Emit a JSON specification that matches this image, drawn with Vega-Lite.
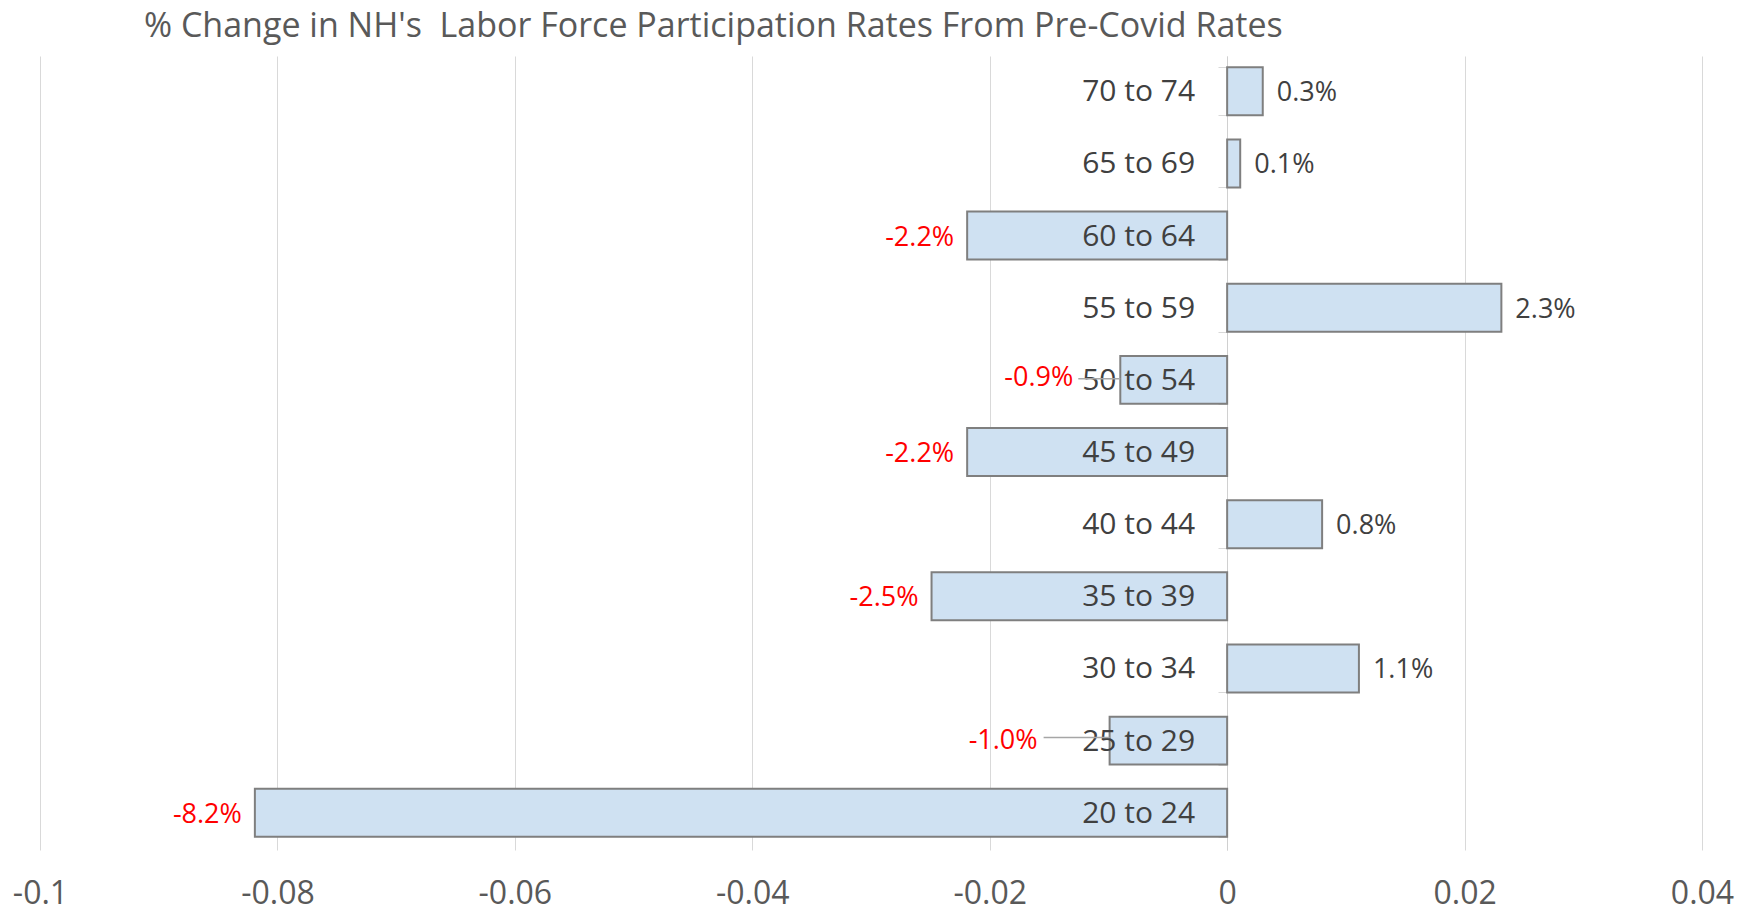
{
  "$schema": "https://vega.github.io/schema/vega-lite/v6.json",
  "width": 1662,
  "height": 794,
  "autosize": {"type": "none"},
  "padding": {"left": 40, "top": 56, "right": 37, "bottom": 62},
  "background": "white",
  "config": {
    "view": {"stroke": null},
    "font": "Open Sans",
    "locale": {"number": {"decimal": ".", "thousands": ",", "grouping": [3], "currency": ["$", ""], "minus": "-"}}
  },
  "title": {
    "text": "% Change in NH's\u00a0 Labor Force Participation Rates From Pre-Covid Rates",
    "anchor": "start",
    "frame": "group",
    "dx": 104,
    "offset": 12,
    "font": "Open Sans",
    "fontSize": 34,
    "fontWeight": "normal",
    "color": "#595959"
  },
  "data": {
    "values": [
      {"age": "70 to 74", "value": 0.0030},
      {"age": "65 to 69", "value": 0.0011},
      {"age": "60 to 64", "value": -0.0219},
      {"age": "55 to 59", "value": 0.0231},
      {"age": "50 to 54", "value": -0.0090},
      {"age": "45 to 49", "value": -0.0219},
      {"age": "40 to 44", "value": 0.0080},
      {"age": "35 to 39", "value": -0.0249},
      {"age": "30 to 34", "value": 0.0111},
      {"age": "25 to 29", "value": -0.0099},
      {"age": "20 to 24", "value": -0.0819}
    ]
  },
  "encoding": {
    "y": {
      "field": "age",
      "type": "nominal",
      "sort": "descending",
      "scale": {"paddingInner": 0.335, "paddingOuter": 0.17, "align": 0.46},
      "axis": {
        "orient": "left",
        "offset": -1187,
        "labels": false,
        "title": null,
        "ticks": true,
        "tickBand": "extent",
        "tickSize": 9,
        "tickColor": "#d9d9d9",
        "domainColor": "#d0d0d0",
        "grid": false
      }
    }
  },
  "layer": [
    {
      "mark": {"type": "bar", "fill": "#cfe1f2", "stroke": "#7f7f7f", "strokeWidth": 2},
      "encoding": {
        "x": {
          "field": "value",
          "type": "quantitative",
          "scale": {"domain": [-0.1, 0.04], "nice": false, "zero": false},
          "axis": {
            "values": [-0.1, -0.08, -0.06, -0.04, -0.02, 0, 0.02, 0.04],
            "labelExpr": "format(datum.value, '~g')",
            "title": null,
            "grid": true,
            "gridColor": "#d9d9d9",
            "gridWidth": 1,
            "domain": false,
            "ticks": false,
            "labelFont": "Open Sans",
            "labelFontSize": 32,
            "labelColor": "#595959",
            "labelPadding": 28,
            "labelFlush": false,
            "labelOverlap": false
          }
        }
      }
    },
    {
      "mark": {"type": "text", "align": "right", "baseline": "middle", "dx": -32, "dy": 1, "fontSize": 30, "color": "#404040"},
      "encoding": {
        "x": {"datum": 0, "type": "quantitative"},
        "text": {"field": "age"}
      }
    },
    {
      "transform": [{"filter": "datum.value > 0"}],
      "mark": {"type": "text", "align": "left", "baseline": "middle", "dx": 14, "dy": 2, "fontSize": 27, "color": "#404040"},
      "encoding": {
        "x": {"field": "value", "type": "quantitative"},
        "text": {"field": "value", "type": "quantitative", "format": ".1%"}
      }
    },
    {
      "transform": [{"filter": "datum.value < 0 && datum.age != '50 to 54' && datum.age != '25 to 29'"}],
      "mark": {"type": "text", "align": "right", "baseline": "middle", "dx": -13, "dy": 2, "fontSize": 27, "color": "#ff0000"},
      "encoding": {
        "x": {"field": "value", "type": "quantitative"},
        "text": {"field": "value", "type": "quantitative", "format": ".1%"}
      }
    },
    {
      "transform": [{"filter": "datum.age == '50 to 54'"}],
      "mark": {"type": "text", "align": "right", "baseline": "middle", "dx": -47, "dy": -2, "fontSize": 27, "color": "#ff0000"},
      "encoding": {
        "x": {"field": "value", "type": "quantitative"},
        "text": {"field": "value", "type": "quantitative", "format": ".1%"}
      }
    },
    {
      "transform": [{"filter": "datum.age == '25 to 29'"}],
      "mark": {"type": "text", "align": "right", "baseline": "middle", "dx": -72, "dy": 0, "fontSize": 27, "color": "#ff0000"},
      "encoding": {
        "x": {"field": "value", "type": "quantitative"},
        "text": {"field": "value", "type": "quantitative", "format": ".1%"}
      }
    },
    {
      "transform": [{"filter": "datum.age == '50 to 54'"}],
      "mark": {"type": "rule", "color": "#a6a6a6", "strokeWidth": 1.5, "x2Offset": -42, "yOffset": -1},
      "encoding": {
        "x": {"field": "value", "type": "quantitative"},
        "x2": {"field": "value"}
      }
    },
    {
      "transform": [{"filter": "datum.age == '25 to 29'"}],
      "mark": {"type": "rule", "color": "#a6a6a6", "strokeWidth": 1.5, "x2Offset": -66, "yOffset": -3},
      "encoding": {
        "x": {"field": "value", "type": "quantitative"},
        "x2": {"field": "value"}
      }
    }
  ]
}
